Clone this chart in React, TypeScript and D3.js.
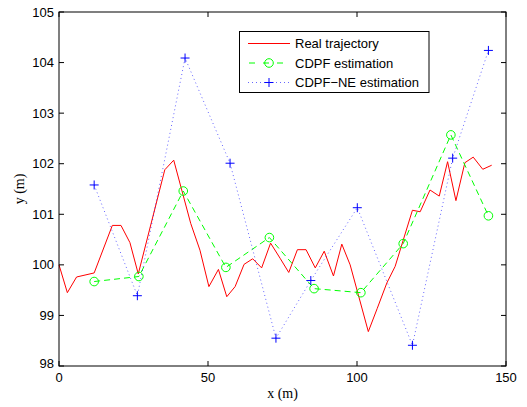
import React from "react";
import * as d3 from "d3";

const realX = [0, 2.8, 5.9, 11.8, 17.9, 20.8, 23.8, 26.6, 35.5, 38.5, 44.2, 47.3, 50.3, 53.5, 56.3, 59.1, 62.1, 65.0, 68.0, 71.0, 74.2, 77.1, 80.0, 82.9, 86.0, 89.0, 92.1, 94.9, 97.7, 103.8, 106.8, 110.0, 112.8, 118.6, 121.2, 124.5, 127.6, 130.4, 133.2, 136.2, 139.0, 142.2, 145.2];
const realY = [100.0, 99.45, 99.76, 99.84, 100.78, 100.78, 100.44, 99.82, 101.88, 102.07, 100.82, 100.29, 99.57, 99.91, 99.37, 99.57, 100.01, 100.12, 99.94, 100.43, 100.13, 99.85, 100.3, 100.3, 99.94, 100.27, 99.78, 100.41, 100.0, 98.68, 99.14, 99.64, 99.97, 101.08, 101.05, 101.48, 101.36, 102.04, 101.27, 102.02, 102.13, 101.89, 101.97];

const cdpfX = [11.8, 26.8, 41.7, 56.0, 70.6, 85.6, 101.3, 115.5, 131.5, 144.1];
const cdpfY = [99.67, 99.77, 101.46, 99.95, 100.54, 99.53, 99.45, 100.42, 102.57, 100.97];

const neX = [11.8, 26.3, 42.3, 57.4, 72.8, 84.5, 100.1, 118.6, 132.1, 144.1];
const neY = [101.58, 99.39, 104.09, 102.01, 98.55, 99.69, 101.13, 98.41, 102.11, 104.24];

const xTicks = [0, 50, 100, 150];
const yTicks = [98, 99, 100, 101, 102, 103, 104, 105];
const legendLabels = ["Real trajectory", "CDPF estimation", "CDPF\u2212NE estimation"];

const L = 59, R = 506, T = 12, B = 366;
const sans = "Liberation Sans, Arial, sans-serif";
const serif = "Liberation Serif, Times New Roman, serif";

export default function App() {
  const x = d3.scaleLinear().domain([0, 150]).range([L, R]);
  const y = d3.scaleLinear().domain([98, 105]).range([B, T]);
  const line = d3.line<[number, number]>().x(d => x(d[0])).y(d => y(d[1]));
  const real = realX.map((v, i) => [v, realY[i]] as [number, number]);
  const cdpf = cdpfX.map((v, i) => [v, cdpfY[i]] as [number, number]);
  const ne = neX.map((v, i) => [v, neY[i]] as [number, number]);
  const tl = 5;
  const plus = (cx: number, cy: number, k: string) => (
    <g key={k} stroke="#0000ff" strokeWidth={1}>
      <line x1={cx - 4.5} x2={cx + 4.5} y1={cy} y2={cy} />
      <line x1={cx} x2={cx} y1={cy - 4.5} y2={cy + 4.5} />
    </g>
  );
  const lx0 = 248, lx1 = 290, lrows = [43.5, 63, 82.5];
  return (
    <svg width={527} height={407} style={{ position: "absolute", left: 0, top: 0, background: "#fff" }}>
      <rect x={0} y={0} width={527} height={407} fill="#fff" />
      <path d={line(real)!} fill="none" stroke="#ff0000" strokeWidth={1} />
      <path d={line(cdpf)!} fill="none" stroke="#00ff00" strokeWidth={1} strokeDasharray="6,4" />
      {cdpf.map((d, i) => (
        <circle key={"c" + i} cx={x(d[0])} cy={y(d[1])} r={4.3} fill="none" stroke="#00ff00" strokeWidth={1} />
      ))}
      <path d={line(ne)!} fill="none" stroke="#0000ff" strokeOpacity={0.6} strokeWidth={1} strokeDasharray="1,3" />
      {ne.map((d, i) => plus(x(d[0]), y(d[1]), "p" + i))}
      <rect x={L} y={T} width={R - L} height={B - T} fill="none" stroke="#000" strokeWidth={1} />
      {xTicks.map(t => (
        <g key={"xt" + t}>
          <line x1={x(t)} x2={x(t)} y1={B} y2={B - tl} stroke="#000" />
          <line x1={x(t)} x2={x(t)} y1={T} y2={T + tl} stroke="#000" />
          <text x={x(t)} y={382} fontFamily={sans} fontSize={13} textAnchor="middle">{t}</text>
        </g>
      ))}
      {yTicks.map(t => (
        <g key={"yt" + t}>
          <line x1={L} x2={L + tl} y1={y(t)} y2={y(t)} stroke="#000" />
          <line x1={R} x2={R - tl} y1={y(t)} y2={y(t)} stroke="#000" />
          <text x={54} y={y(t) + (t === 98 ? -3 : 0)} dy="0.35em" fontFamily={sans} fontSize={13} textAnchor="end">{t}</text>
        </g>
      ))}
      <text x={(L + R) / 2} y={398} fontFamily={serif} fontSize={14} textAnchor="middle">x (m)</text>
      <text transform={`translate(24,${(T + B) / 2}) rotate(-90)`} fontFamily={serif} fontSize={14} textAnchor="middle">y (m)</text>
      <rect x={239.5} y={31.5} width={189.5} height={61} fill="#fff" stroke="#000" strokeWidth={1} />
      <line x1={lx0} x2={lx1} y1={lrows[0]} y2={lrows[0]} stroke="#ff0000" />
      <line x1={lx0} x2={lx1} y1={lrows[1]} y2={lrows[1]} stroke="#00ff00" strokeDasharray="6,8" strokeDashoffset={-1} />
      <circle cx={(lx0 + lx1) / 2} cy={lrows[1]} r={4.3} fill="none" stroke="#00ff00" />
      <line x1={lx0} x2={lx1} y1={lrows[2]} y2={lrows[2]} stroke="#0000ff" strokeOpacity={0.6} strokeDasharray="1,3" />
      {plus((lx0 + lx1) / 2, lrows[2], "lp")}
      {legendLabels.map((s, i) => (
        <text key={s} x={295} y={lrows[i]} dy="0.35em" fontFamily={sans} fontSize={13}>{s}</text>
      ))}
    </svg>
  );
}
